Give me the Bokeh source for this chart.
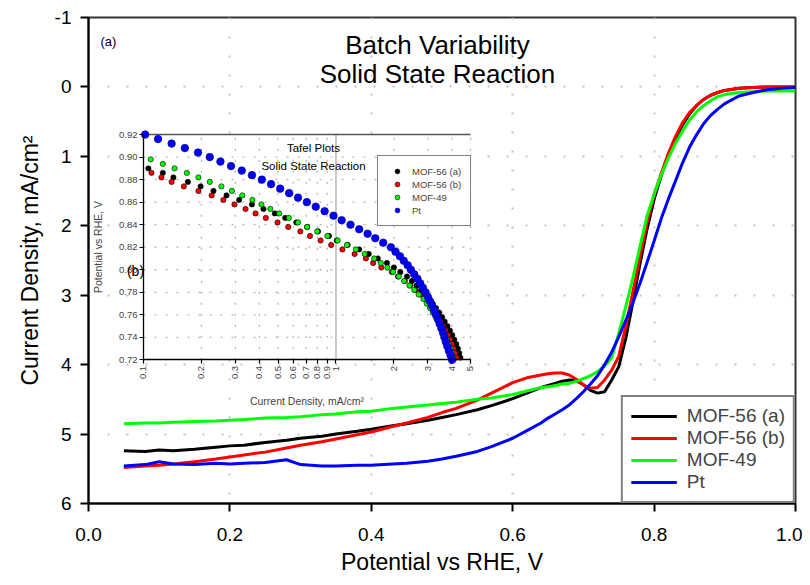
import math
from bokeh.plotting import figure
from bokeh.models import (Range1d, LinearAxis, LogScale, FixedTicker, Legend, LegendItem,
                          Label, NumeralTickFormatter)
from bokeh.embed import file_html
from bokeh.resources import INLINE

FONT = "Liberation Sans"

# ---------------- main chart data (linear sweep voltammetry) ----------------
potential = [0.05, 0.08, 0.10, 0.12, 0.15, 0.18, 0.20, 0.22, 0.25, 0.28, 0.30, 0.33, 0.35, 0.38,
             0.40, 0.43, 0.45, 0.48, 0.50, 0.52, 0.55, 0.57, 0.60, 0.62, 0.64, 0.65, 0.66, 0.67,
             0.68, 0.69, 0.70, 0.71, 0.72, 0.73, 0.74, 0.75, 0.76, 0.77, 0.78, 0.79, 0.80, 0.81,
             0.82, 0.83, 0.84, 0.85, 0.86, 0.87, 0.88, 0.89, 0.90, 0.92, 0.94, 0.96, 0.98, 1.00]
mof56a = [5.24, 5.25, 5.23, 5.24, 5.22, 5.19, 5.17, 5.16, 5.12, 5.09, 5.06, 5.03, 5.00, 4.96,
          4.93, 4.88, 4.85, 4.80, 4.76, 4.72, 4.65, 4.59, 4.49, 4.41, 4.33, 4.30, 4.27, 4.24,
          4.22, 4.23, 4.29, 4.37, 4.41, 4.39, 4.22, 4.03, 3.62, 3.10, 2.55, 2.05, 1.62, 1.28,
          1.00, 0.76, 0.55, 0.39, 0.27, 0.18, 0.12, 0.08, 0.05, 0.02, 0.01, 0.00, 0.00, 0.00]
mof56b = [5.48, 5.46, 5.45, 5.43, 5.40, 5.36, 5.33, 5.30, 5.26, 5.20, 5.16, 5.11, 5.07, 5.01,
          4.97, 4.89, 4.84, 4.76, 4.69, 4.63, 4.51, 4.41, 4.26, 4.19, 4.15, 4.13, 4.12, 4.12,
          4.15, 4.21, 4.29, 4.34, 4.33, 4.22, 4.08, 3.88, 3.45, 2.95, 2.45, 1.96, 1.55, 1.25,
          0.96, 0.72, 0.52, 0.37, 0.27, 0.18, 0.12, 0.08, 0.05, 0.02, 0.01, 0.00, 0.00, 0.00]
mof49 = [4.85, 4.84, 4.84, 4.83, 4.82, 4.81, 4.80, 4.79, 4.77, 4.76, 4.75, 4.72, 4.71, 4.68,
         4.67, 4.63, 4.61, 4.58, 4.56, 4.54, 4.50, 4.48, 4.43, 4.38, 4.33, 4.32, 4.30, 4.28,
         4.27, 4.24, 4.20, 4.16, 4.10, 4.02, 3.90, 3.55, 3.16, 2.75, 2.30, 1.86, 1.55, 1.27,
         1.03, 0.82, 0.64, 0.48, 0.36, 0.27, 0.20, 0.14, 0.11, 0.08, 0.07, 0.06, 0.06, 0.06]
pt = [5.46, 5.44, 5.40, 5.43, 5.44, 5.42, 5.43, 5.42, 5.41, 5.37, 5.44, 5.46, 5.46, 5.45,
      5.45, 5.43, 5.42, 5.39, 5.36, 5.32, 5.25, 5.18, 5.06, 4.95, 4.84, 4.77, 4.71, 4.65,
      4.58, 4.49, 4.39, 4.28, 4.16, 4.00, 3.82, 3.60, 3.36, 3.11, 2.83, 2.53, 2.22, 1.90,
      1.62, 1.36, 1.10, 0.87, 0.69, 0.53, 0.41, 0.32, 0.24, 0.13, 0.08, 0.04, 0.02, 0.01]

series_names = ["MOF-56 (a)", "MOF-56 (b)", "MOF-49", "Pt"]
x_ticks = [0.0, 0.2, 0.4, 0.6, 0.8, 1.0]
y_ticks = [-1, 0, 1, 2, 3, 4, 5, 6]

# ---------------- inset data (Tafel plots) ----------------
tafel_E_56a = [0.890, 0.886, 0.882, 0.878, 0.874, 0.870, 0.866, 0.862, 0.858, 0.854, 0.850,
               0.846, 0.842, 0.838, 0.834, 0.830, 0.826, 0.822, 0.818, 0.814, 0.810, 0.806,
               0.802, 0.798, 0.794, 0.790, 0.786, 0.782, 0.778, 0.774, 0.770, 0.766, 0.762,
               0.758, 0.754, 0.750, 0.746, 0.742, 0.738, 0.734, 0.730, 0.726, 0.722]
tafel_j_56a = [0.106, 0.126, 0.143, 0.170, 0.198, 0.231, 0.270, 0.314, 0.366, 0.420, 0.481,
               0.545, 0.622, 0.709, 0.807, 0.920, 1.01, 1.15, 1.32, 1.48, 1.65, 1.84,
               2.00, 2.16, 2.34, 2.48, 2.62, 2.77, 2.91, 3.05, 3.18, 3.31, 3.44,
               3.56, 3.67, 3.79, 3.91, 4.02, 4.12, 4.22, 4.30, 4.37, 4.43]
tafel_E_56b = [0.886, 0.882, 0.878, 0.874, 0.870, 0.866, 0.862, 0.858, 0.854, 0.850, 0.846,
               0.842, 0.838, 0.834, 0.830, 0.826, 0.822, 0.818, 0.814, 0.810, 0.806, 0.802,
               0.798, 0.794, 0.790, 0.786, 0.782, 0.778, 0.774, 0.770, 0.766, 0.762, 0.758,
               0.754, 0.750, 0.746, 0.742, 0.738, 0.734, 0.730, 0.726, 0.722]
tafel_j_56b = [0.110, 0.124, 0.140, 0.162, 0.193, 0.226, 0.260, 0.297, 0.339, 0.382, 0.432,
               0.497, 0.565, 0.653, 0.733, 0.832, 0.944, 1.08, 1.25, 1.43, 1.56, 1.72,
               1.95, 2.10, 2.28, 2.43, 2.59, 2.75, 2.90, 3.03, 3.16, 3.29, 3.40,
               3.51, 3.61, 3.72, 3.82, 3.92, 4.01, 4.08, 4.16, 4.23]
tafel_E_49 = [0.898, 0.894, 0.890, 0.886, 0.882, 0.878, 0.874, 0.870, 0.866, 0.862, 0.858,
              0.854, 0.850, 0.846, 0.842, 0.838, 0.834, 0.830, 0.826, 0.822, 0.818, 0.814,
              0.810, 0.806, 0.802, 0.798, 0.794, 0.790, 0.786, 0.782, 0.778, 0.774, 0.770,
              0.766, 0.762, 0.758, 0.754, 0.750, 0.746, 0.742, 0.738, 0.734, 0.730, 0.726, 0.722]
tafel_j_49 = [0.109, 0.126, 0.145, 0.168, 0.193, 0.221, 0.254, 0.288, 0.326, 0.368, 0.410,
              0.456, 0.507, 0.569, 0.635, 0.708, 0.798, 0.902, 1.02, 1.14, 1.27, 1.41,
              1.58, 1.71, 1.85, 1.98, 2.12, 2.26, 2.41, 2.55, 2.69, 2.85, 2.96,
              3.08, 3.19, 3.30, 3.40, 3.50, 3.60, 3.70, 3.78, 3.86, 3.94, 4.01, 4.07]
tafel_E_pt = [0.920, 0.916, 0.912, 0.908, 0.904, 0.900, 0.896, 0.892, 0.888, 0.884, 0.880,
              0.876, 0.872, 0.868, 0.864, 0.860, 0.856, 0.852, 0.848, 0.844, 0.840, 0.836,
              0.832, 0.828, 0.824, 0.820, 0.816, 0.812, 0.808, 0.804, 0.800, 0.796, 0.792,
              0.788, 0.784, 0.780, 0.776, 0.772, 0.768, 0.764, 0.760, 0.756, 0.752, 0.748,
              0.744, 0.740, 0.736, 0.732, 0.728, 0.724, 0.720]
tafel_j_pt = [0.102, 0.119, 0.140, 0.164, 0.192, 0.221, 0.251, 0.285, 0.324, 0.366, 0.412,
              0.460, 0.513, 0.571, 0.635, 0.706, 0.785, 0.873, 0.971, 1.07, 1.19, 1.32,
              1.46, 1.60, 1.76, 1.93, 2.04, 2.15, 2.25, 2.36, 2.45, 2.55, 2.65,
              2.74, 2.83, 2.92, 3.00, 3.08, 3.16, 3.24, 3.31, 3.39, 3.46, 3.53,
              3.60, 3.66, 3.72, 3.79, 3.86, 3.94, 4.01]
inset_x_ticks = [0.1, 0.2, 0.3, 0.4, 0.5, 0.6, 0.7, 0.8, 0.9, 1, 2, 3, 4, 5]
inset_y_ticks = [0.72, 0.74, 0.76, 0.78, 0.80, 0.82, 0.84, 0.86, 0.88, 0.90, 0.92]
inset_ref_line = 1

# ---------------- layout (screen pixels) ----------------
FRAME_L, FRAME_T, FRAME_W, FRAME_H = 88, 17, 707, 494
INSET_L, INSET_R, INSET_T, INSET_B = 143, 470, 136, 365
W, H = 802, 577

x_lo, x_hi = x_ticks[0], x_ticks[-1]
y_top, y_bot = y_ticks[0], y_ticks[-1]

lx0, lx1 = math.log10(inset_x_ticks[0]), math.log10(inset_x_ticks[-1])
dec_px = (INSET_R - INSET_L) / (lx1 - lx0)
ilog_start = lx0 - (INSET_L - FRAME_L) / dec_px
ilog_end = lx0 + (FRAME_L + FRAME_W - INSET_L) / dec_px
iy0, iy1 = inset_y_ticks[0], inset_y_ticks[-1]
v_px = (iy1 - iy0) / (INSET_B - INSET_T)
iy_end = iy1 + (INSET_T - FRAME_T) * v_px
iy_start = iy0 - (FRAME_T + FRAME_H - INSET_B) * v_px


def mx(px):
    return x_lo + (px - FRAME_L) / FRAME_W * (x_hi - x_lo)


def my(py):
    return y_top + (py - FRAME_T) / FRAME_H * (y_bot - y_top)


def ix(px):
    return 10 ** (ilog_start + (px - FRAME_L) / FRAME_W * (ilog_end - ilog_start))


def iy(py):
    return iy_end + (py - FRAME_T) / FRAME_H * (iy_start - iy_end)


p = figure(width=W, height=H,
           min_border_left=FRAME_L, min_border_right=W - FRAME_L - FRAME_W,
           min_border_top=FRAME_T, min_border_bottom=H - FRAME_T - FRAME_H,
           x_range=Range1d(x_lo, x_hi), y_range=Range1d(y_bot, y_top),
           output_backend="svg", toolbar_location=None)
p.background_fill_color = "white"
p.border_fill_color = "white"
p.outline_line_color = "#333333"
p.outline_line_width = 2

xa = p.xaxis[0]
ya = p.yaxis[0]
for ax in (xa, ya):
    ax.axis_line_width = 2
    ax.axis_line_color = "black"
    ax.major_tick_line_width = 2
    ax.major_tick_out = 8
    ax.major_tick_in = 0
    ax.minor_tick_out = 0
    ax.minor_tick_in = 0
    ax.major_label_text_font = FONT
    ax.major_label_text_font_size = "19px"
    ax.major_label_text_color = "black"
    ax.axis_label_text_font = FONT
    ax.axis_label_text_font_size = "23px"
    ax.axis_label_text_font_style = "normal"
    ax.axis_label_text_color = "black"
xa.ticker = FixedTicker(ticks=x_ticks)
xa.formatter = NumeralTickFormatter(format="0.0")
ya.ticker = FixedTicker(ticks=y_ticks)
ya.formatter = NumeralTickFormatter(format="0")
xa.axis_label = "Potential vs RHE, V"
ya.axis_label = "Current Density, mA/cm²"
xa.major_label_standoff = 16
xa.axis_label_standoff = 5
ya.major_label_standoff = 9
ya.axis_label_standoff = 9

p.xgrid.ticker = FixedTicker(ticks=x_ticks)
p.ygrid.ticker = FixedTicker(ticks=y_ticks)
p.grid.grid_line_color = "#c4c4c4"
p.grid.grid_line_width = 2
p.grid.grid_line_dash = "2 17"

colors = ["black", "#ff0000", "#00ff00", "#0000ff"]
curves = [mof56a, mof56b, mof49, pt]
main_renderers = [p.line(potential, c, line_color=col, line_width=3) for c, col in zip(curves, colors)]

legend = Legend(items=[LegendItem(label=n, renderers=[r]) for n, r in zip(series_names, main_renderers)],
                location="bottom_right", margin=0, padding=8, spacing=0,
                glyph_width=46, glyph_height=20, label_height=20, label_standoff=10,
                label_text_font=FONT, label_text_font_size="19px",
                border_line_color="black", border_line_width=2,
                background_fill_color="white", background_fill_alpha=1)
p.add_layout(legend)

# ---------------- inset ----------------
p.extra_x_ranges = {"inset": Range1d(10 ** ilog_start, 10 ** ilog_end)}
p.extra_x_scales = {"inset": LogScale()}
p.extra_y_ranges = {"inset": Range1d(iy_start, iy_end)}
IN = dict(x_range_name="inset", y_range_name="inset")

p.quad(left=[inset_x_ticks[0]], right=[inset_x_ticks[-1]], bottom=[iy0], top=[iy1],
       fill_color="white", line_color=None, **IN)
gx = [t for t in inset_x_ticks[1:] if t != inset_ref_line]
p.segment(x0=gx, x1=gx, y0=[iy0] * len(gx), y1=[iy1] * len(gx),
          line_color="#b4b4b4", line_width=1.3, line_dash="2 9", **IN)
gy = inset_y_ticks[1:-1]
p.segment(x0=[inset_x_ticks[0]] * len(gy), x1=[inset_x_ticks[-1]] * len(gy), y0=gy, y1=gy,
          line_color="#b4b4b4", line_width=1.3, line_dash="2 9", **IN)
p.segment(x0=[inset_ref_line], x1=[inset_ref_line], y0=[iy0], y1=[iy1],
          line_color="#b8b8b8", line_width=1.5, **IN)
p.segment(x0=[inset_x_ticks[0]], x1=[inset_x_ticks[-1]], y0=[iy1], y1=[iy1],
          line_color="#555555", line_width=1.5, **IN)

tafel = [(tafel_j_56a, tafel_E_56a, "black", "black", 5.3),
         (tafel_j_56b, tafel_E_56b, "#ff0000", "black", 5.3),
         (tafel_j_49, tafel_E_49, "#00ff00", "black", 5.3),
         (tafel_j_pt, tafel_E_pt, "#0000ff", "#000066", 7.6)]
inset_renderers = [p.scatter(j, e, size=s, fill_color=fc, line_color=lc, line_width=0.6, **IN)
                   for j, e, fc, lc, s in tafel]

iya = LinearAxis(fixed_location=inset_x_ticks[0], bounds=(iy0, iy1),
                 ticker=FixedTicker(ticks=inset_y_ticks),
                 formatter=NumeralTickFormatter(format="0.00"),
                 axis_label="Potential vs RHE, V", **IN)
ixa = LinearAxis(fixed_location=iy0, bounds=(inset_x_ticks[0], inset_x_ticks[-1]),
                 ticker=FixedTicker(ticks=inset_x_ticks),
                 formatter=NumeralTickFormatter(format="0.[0]"),
                 major_label_orientation=math.pi / 2,
                 axis_label="Current Density, mA/cm²", **IN)
for ax in (iya, ixa):
    ax.axis_line_width = 1.3
    ax.axis_line_color = "black"
    ax.major_tick_line_width = 1.2
    ax.major_tick_out = 4
    ax.major_tick_in = 0
    ax.minor_tick_out = 0
    ax.minor_tick_in = 0
    ax.major_label_text_font = FONT
    ax.major_label_text_font_size = "9.5px"
    ax.major_label_standoff = 2
    ax.axis_label_text_font = FONT
    ax.axis_label_text_font_size = "10.5px"
    ax.axis_label_text_font_style = "normal"
iya.axis_label_standoff = 12
ixa.axis_label_standoff = 13
p.add_layout(iya, "left")
p.add_layout(ixa, "below")

INSET_LEG_L, INSET_LEG_B = 377, 234
ileg = Legend(items=[LegendItem(label=n, renderers=[r]) for n, r in zip(series_names, inset_renderers)],
              location=(INSET_LEG_L - FRAME_L, FRAME_T + FRAME_H - INSET_LEG_B),
              margin=0, padding=9, spacing=1,
              glyph_width=20, glyph_height=12, label_height=12, label_standoff=5,
              label_text_font=FONT, label_text_font_size="9.5px",
              border_line_color="black", border_line_width=1.3,
              background_fill_color="white", background_fill_alpha=1)
p.add_layout(ileg)

# ---------------- texts ----------------
texts = [
    (mx(100), my(41), "(a)", "13px", "left", None),
    (mx(437), my(45), "Batch Variability", "26px", "center", None),
    (mx(437), my(74), "Solid State Reaction", "26px", "center", None),
    (ix(313), iy(150), "Tafel Plots", "11.5px", "center", "inset"),
    (ix(313), iy(168), "Solid State Reaction", "11.5px", "center", "inset"),
    (mx(135), my(275), "(b)", "14px", "center", None),
]
for x, y, t, fs, al, rn in texts:
    kw = IN if rn else {}
    p.add_layout(Label(x=x, y=y, text=t, text_font=FONT, text_font_size=fs,
                       text_align=al, text_baseline="middle", text_color="black", **kw))

open("out.html", "w").write(file_html(p, INLINE))
